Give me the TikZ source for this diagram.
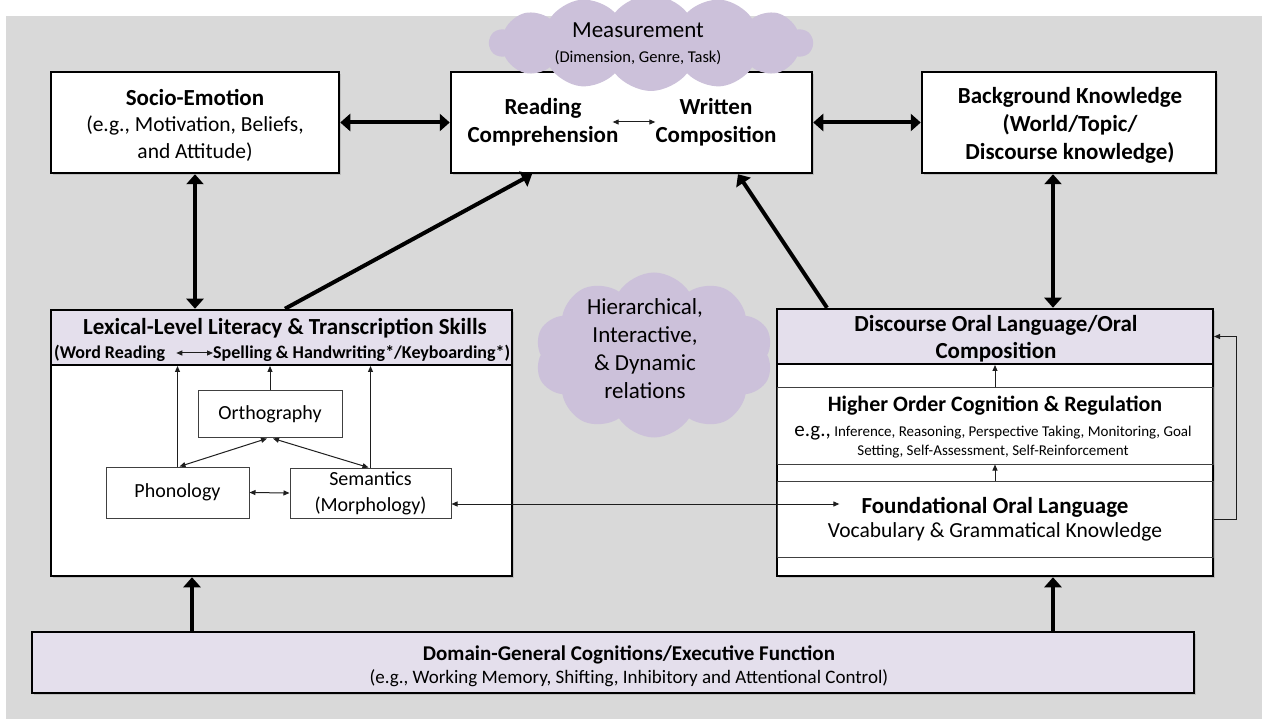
\documentclass[tikz,border=0pt]{standalone}
\usepackage{fontspec}
\setmainfont{Carlito}
\usetikzlibrary{arrows.meta,shapes.symbols,shadows,calc}

\definecolor{bggray}{RGB}{217,217,217}
\definecolor{lavender}{RGB}{228,223,236}
\definecolor{cloudlilac}{RGB}{204,193,218}
\definecolor{thinline}{RGB}{64,64,64}
\definecolor{arrowink}{RGB}{30,30,30}

\tikzset{
  bigtri/.tip={Triangle[length=10pt,width=17pt]},
  smalltri/.tip={Triangle[length=6pt,width=5pt]},
}

\begin{document}
\begin{tikzpicture}[x=1pt,y=-1pt,
  box/.style={draw=black, line width=2.5pt, fill=white, rectangle, inner sep=0pt,
    drop shadow={shadow xshift=2pt, shadow yshift=-2pt, opacity=0.3}},
  headbox/.style={draw=black, line width=2pt, fill=lavender, rectangle, inner sep=0pt},
  section/.style={draw=thinline, line width=1pt, rectangle, inner sep=0pt},
  smallbox/.style={draw=thinline, line width=1pt, fill=white, rectangle, inner sep=0pt, align=center,
    font=\fontsize{20}{26}\selectfont},
  txt/.style={inner sep=0pt, align=center},
  bigboth/.style={line width=4pt, bigtri-bigtri},
  bigone/.style={line width=4pt, -bigtri},
  thinboth/.style={draw=arrowink, line width=1pt, smalltri-smalltri},
  thinone/.style={draw=arrowink, line width=1pt, -smalltri},
  puff/.style={cloud, cloud puffs=11, cloud puff arc=115, fill=cloudlilac, draw=none, inner sep=0pt},
]
\useasboundingbox (0,0) rectangle (1262,719);
\fill[white] (0,0) rectangle (1262,719);
\fill[bggray] (6,16) rectangle (1262,719);

% ---- top row ----
\node[box, minimum width=288pt, minimum height=101pt] (socio) at (195,122.5) {};
\node[txt, font=\fontsize{21.5}{26.5}\selectfont] (sociotext) at (195,125)
  {\textbf{\fontsize{23}{26.5}\selectfont Socio-Emotion}\\(e.g., Motivation, Beliefs,\\and Attitude)};

\node[box, minimum width=361pt, minimum height=101pt] (central) at (631.5,122.5) {};
\node[txt, font=\fontsize{23}{28}\selectfont\bfseries] (rc) at (543,122) {Reading\\Comprehension};
\node[txt, font=\fontsize{23}{28}\selectfont\bfseries] (wc) at (716,122) {Written\\Composition};
\draw[thinboth] ([xshift=-6pt]rc.east) -- (wc.west);

\node[box, minimum width=294pt, minimum height=101pt] (bg) at (1069,122.5) {};
\node[txt, font=\fontsize{23}{28}\selectfont\bfseries] (bgtext) at (1070,125)
  {Background Knowledge\\(World/Topic/\\Discourse knowledge)};

% measurement cloud over the central box
\node[puff, cloud puffs=14, cloud puff arc=105, minimum width=323pt, minimum height=96pt] (meas) at (651,43) {};
\node[txt, font=\fontsize{16.5}{25}\selectfont] (meastext) at (638,44)
  {{\fontsize{23}{25}\selectfont Measurement}\\(Dimension, Genre, Task)};

\draw[bigboth] (socio.east) -- (central.west);
\draw[bigboth] (central.east) -- (bg.west);

% ---- lexical-level box ----
\node[box, minimum width=461pt, minimum height=266pt] (lex) at (281.5,443) {};
\node[headbox, minimum width=461pt, minimum height=55pt] (lexhead) at (281.5,337.5) {};
\node[txt, font=\fontsize{23}{27}\selectfont\bfseries] (lextitle) at (285,328)
  {Lexical-Level Literacy \& Transcription Skills};
\node[txt, anchor=west, font=\fontsize{18}{22}\selectfont\bfseries] (wordread) at (54,353) {(Word Reading};
\node[txt, anchor=west, font=\fontsize{18}{22}\selectfont\bfseries] (spell) at (213,353)
  {Spelling \& Handwriting*/Keyboarding*)};
\draw[thinboth] ([xshift=11pt]wordread.east) -- (spell.west);

\node[smallbox, minimum width=144pt, minimum height=47pt] (ortho) at (270,414.5) {Orthography};
\node[smallbox, minimum width=143pt, minimum height=51pt] (phon) at (177.5,492.5) {Phonology};
\node[smallbox, minimum width=161pt, minimum height=50pt] (sem) at (370.5,493) {Semantics\\(Morphology)};

\draw[thinone] (ortho.north) -- (ortho.north |- lexhead.south);
\draw[thinone] (phon.north) -- (phon.north |- lexhead.south);
\draw[thinone] (sem.north) -- (sem.north |- lexhead.south);
\draw[thinboth] ([xshift=-3pt]ortho.south) -- ([xshift=2pt]phon.north);
\draw[thinboth] ([xshift=3pt]ortho.south) -- ([xshift=-2pt]sem.north);
\draw[thinboth] (phon.east) -- (sem.west);

% ---- discourse oral language box ----
\node[box, minimum width=436pt, minimum height=267pt] (disc) at (995,442.5) {};
\node[headbox, minimum width=436pt, minimum height=55pt] (dischead) at (995,336.5) {};
\node[txt, font=\fontsize{23}{27}\selectfont\bfseries] (disctext) at (996,338.5)
  {Discourse Oral Language/Oral\\Composition};
\node[section, minimum width=436pt, minimum height=76pt] (hoc) at (995,426) {};
\node[section, minimum width=436pt, minimum height=76pt] (fol) at (995,519) {};
\node[txt, font=\fontsize{22}{26}\selectfont\bfseries] (hoctitle) at (995,406)
  {Higher Order Cognition \& Regulation};
\node[txt, font=\fontsize{15}{19}\selectfont] (hocsub) at (993,442.5)
  {{\fontsize{21}{19}\selectfont e.g.,} Inference, Reasoning, Perspective Taking, Monitoring, Goal\\Setting, Self-Assessment, Self-Reinforcement};
\node[txt, font=\fontsize{23}{27}\selectfont\bfseries] (foltitle) at (995,507) {Foundational Oral Language};
\node[txt, font=\fontsize{21.5}{26}\selectfont] (folsub) at (995,532) {Vocabulary \& Grammatical Knowledge};

\draw[thinone] (hoc.north) -- (dischead.south);
\draw[thinone] (fol.north) -- (hoc.south);
\draw[thinone] (fol.east) -- ++(23,0) |- (dischead.east);

\draw[thinboth, shorten >=22pt] ([yshift=-11pt]sem.east) -- ([yshift=-11pt]sem.east -| foltitle.west);

% ---- relations cloud ----
\node[puff, cloud puffs=10, minimum width=238pt, minimum height=165pt] (hier) at (654,355) {};
\node[txt, font=\fontsize{23}{28}\selectfont] (hiertext) at (645,349)
  {Hierarchical,\\Interactive,\\\& Dynamic\\relations};

% ---- links between levels ----
\draw[bigone] ([xshift=3.5pt]lex.north) -- ([xshift=-99.5pt]central.south);
\draw[bigone] ([xshift=-168pt]disc.north) -- ([xshift=106.5pt]central.south);
\draw[bigboth] (socio.south) -- (socio.south |- lex.north);
\coordinate (bgdown) at ([xshift=-16pt]bg.south);
\draw[bigboth] (bgdown) -- (bgdown |- disc.north);

% ---- domain-general box ----
\node[box, fill=lavender, minimum width=1162pt, minimum height=61pt] (bot) at (613,662.5) {};
\node[txt, font=\fontsize{21}{25}\selectfont\bfseries] (bottitle) at (629,655)
  {Domain-General Cognitions/Executive Function};
\node[txt, font=\fontsize{19}{23}\selectfont] (botsub) at (629,678)
  {(e.g., Working Memory, Shifting, Inhibitory and Attentional Control)};
\coordinate (botl) at ([xshift=-421pt]bot.north);
\coordinate (botr) at ([xshift=440pt]bot.north);
\draw[bigone] (botl) -- (botl |- lex.south);
\draw[bigone] (botr) -- (botr |- disc.south);
\end{tikzpicture}
\end{document}
